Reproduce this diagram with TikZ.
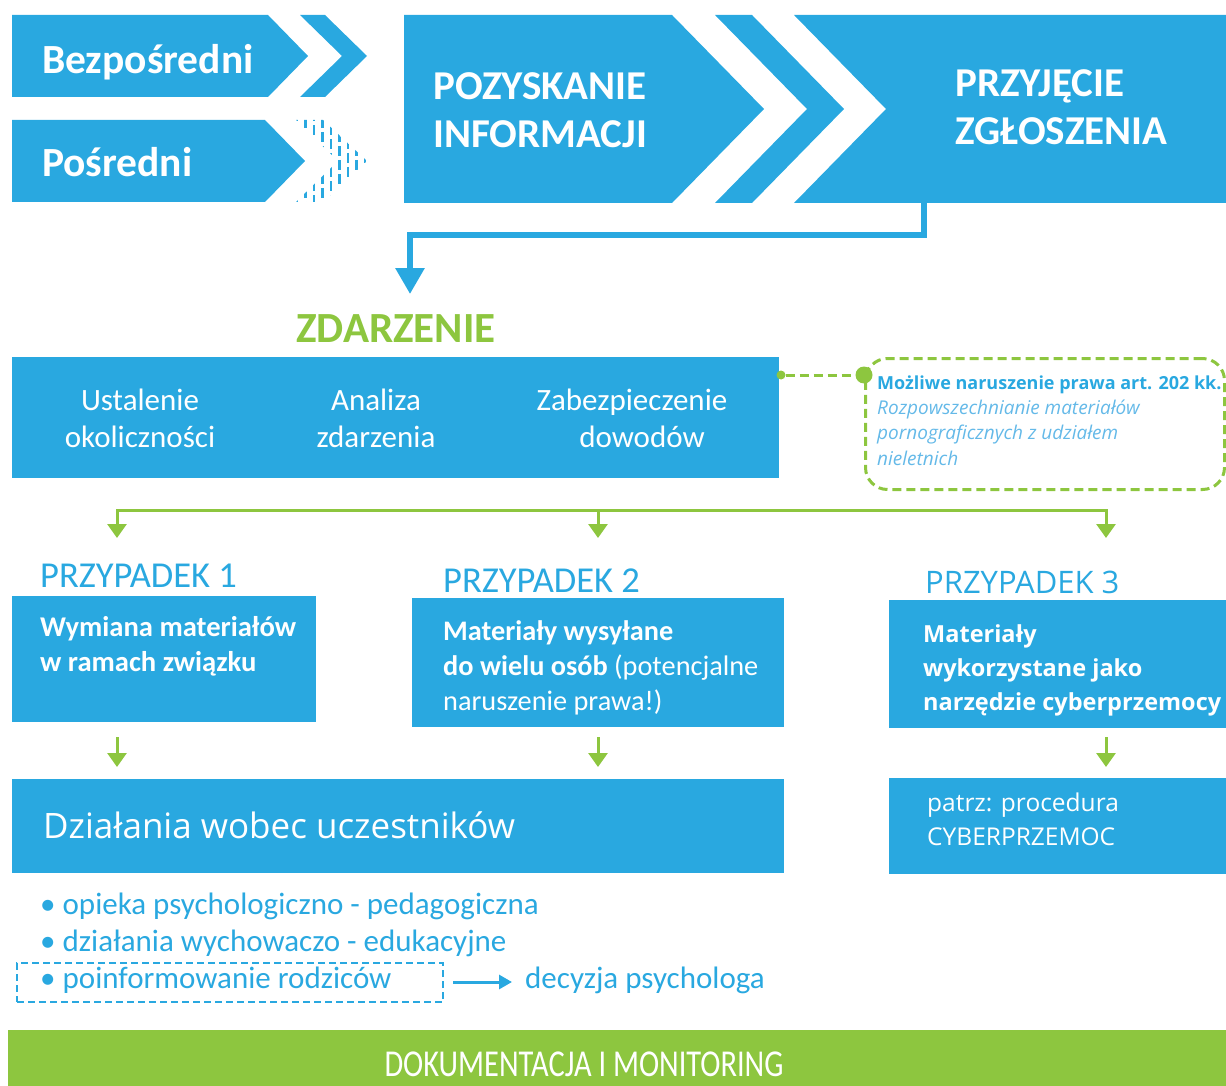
\documentclass[tikz,border=0pt]{standalone}
\usepackage{fontspec}
\setmainfont{Carlito}
\newfontfamily\osf{Open Sans}
\newfontfamily\calc[FakeStretch=0.8]{Carlito}
\usetikzlibrary{arrows.meta}
\definecolor{cblue}{RGB}{41,168,224}
\definecolor{cgreen}{RGB}{141,198,63}
\definecolor{lblue}{RGB}{100,185,232}
\newcommand{\fsz}[2]{\fontsize{#1}{#2}\selectfont}
\begin{document}
\begin{tikzpicture}[x=1pt,y=-1pt,
  box/.style={fill=cblue,draw=none,inner sep=0pt,anchor=north west},
  wtxt/.style={text=white,inner sep=0pt,anchor=base west,align=left},
  ctxt/.style={text=white,inner sep=0pt,anchor=base,align=center,font=\fsz{31}{37}},
  ttl/.style={text=cblue,inner sep=0pt,anchor=base west,font=\fsz{36.5}{42}},
  gline/.style={draw=cgreen,line width=3pt},
  garr/.style={gline,-{Triangle[width=19pt,length=14pt]}},
  gdash/.style={draw=cgreen,line width=3pt,dash pattern=on 9pt off 5pt},
]
\useasboundingbox (0,0) rectangle (1226,1086);

% --- top row: sources (multi-line nodes are anchored at the baseline of their last line)
\fill[cblue] (12,15) -- (268,15) -- (308,56) -- (268,97) -- (12,97) -- cycle;
\node[wtxt,font=\bfseries\fsz{41.5}{48}] (bez) at (42,74) {Bezpośredni};
\fill[cblue] (300,15) -- (325,15) -- (367,56) -- (325,97) -- (300,97) -- (342,56) -- cycle;
\fill[cblue] (12,120) -- (265,120) -- (305,161) -- (265,202) -- (12,202) -- cycle;
\node[wtxt,font=\bfseries\fsz{41.5}{48}] (pos) at (42,177) {Pośredni};
\begin{scope}
  \clip (296,120) -- (323,120) -- (367,161) -- (323,202) -- (296,202) -- (338,161) -- cycle;
  \foreach \x [count=\i] in {297,305.5,...,366} {
    \pgfmathsetmacro\ph{mod(\i*7,14)}
    \draw[cblue,line width=2.5pt,dash pattern=on 10pt off 4pt,dash phase=\ph pt] (\x,118) -- (\x,204);
  }
\end{scope}

% --- big chevrons
\fill[cblue] (404,15) -- (672,15) -- (764,109) -- (672,203) -- (404,203) -- cycle;
\node[wtxt,font=\bfseries\fsz{41}{48}] (poz) at (433,148) {POZYSKANIE\\INFORMACJI};
\fill[cblue] (715,15) -- (752,15) -- (844,109) -- (752,203) -- (715,203) -- (807,109) -- cycle;
\fill[cblue] (794,15) -- (1230,15) -- (1230,203) -- (794,203) -- (886,109) -- cycle;
\node[wtxt,font=\bfseries\fsz{41}{48}] (prz) at (955,145) {PRZYJĘCIE\\ZGŁOSZENIA};

\coordinate (c0) at (924,203);
\coordinate (c1) at (410,294);
\draw[cblue,line width=6pt,line join=miter,-{Triangle[width=28pt,length=26pt]}] (c0) |- (410,235) -- (c1);

% --- ZDARZENIE
\node[font=\bfseries\fsz{43}{50},text=cgreen,inner sep=0pt,anchor=base] (zt) at (396,342) {ZDARZENIE};
\node[box,minimum width=767pt,minimum height=121pt] (zb) at (12,357) {};
\node[ctxt] (u) at (140,447) {Ustalenie\\okoliczności};
\node[ctxt] (an) at (376,447) {Analiza\\zdarzenia};
\node[ctxt] (zab) at (632,447) {Zabezpieczenie\\\hspace*{20pt}dowodów};

% --- note
\node[draw=cgreen,line width=3pt,dash pattern=on 9pt off 5pt,rounded corners=22pt,
      minimum width=359pt,minimum height=131pt,inner sep=0pt,anchor=north west] (nb) at (864,357) {};
\node[circle,fill=cgreen,minimum size=9pt,inner sep=0pt] (d1) at (781,375) {};
\node[circle,fill=cgreen,minimum size=17pt,inner sep=0pt] (d2) at (864,375) {};
\draw[gdash] (d1) -- (d2);
\node[inner sep=0pt,anchor=base west,font=\osf\bfseries\fsz{18}{25},text=cblue] (nt) at (877,389) {Możliwe naruszenie prawa art. 202 kk.};
\node[inner sep=0pt,anchor=base west,align=left,font=\osf\itshape\fsz{19}{25.5},text=lblue] (ni) at (877,465) {Rozpowszechnianie materiałów\\pornograficznych z udziałem\\nieletnich};

% --- green split
\coordinate (g2) at (598,510);
\coordinate (g3) at (1106,510);
\coordinate (a1) at (117,538);
\coordinate (a2) at (598,538);
\coordinate (a3) at (1106,538);
\draw[gline,line join=miter,{Triangle[width=19pt,length=14pt]}-{Triangle[width=19pt,length=14pt]}] (a1) |- (g3) -- (a3);
\draw[garr] (g2) -- (a2);

% --- cases
\node[ttl] (p1) at (40,587) {PRZYPADEK 1};
\node[ttl] (p2) at (443,592) {PRZYPADEK 2};
\node[ttl,font=\osf\fsz{31}{36}] (p3) at (925,593) {PRZYPADEK 3};

\node[box,minimum width=304pt,minimum height=126pt] (b1) at (12,596) {};
\node[wtxt,font=\bfseries\fsz{28.6}{35}] (t1) at (40,671) {Wymiana materiałów\\w ramach związku};
\node[box,minimum width=372pt,minimum height=129pt] (b2) at (412,598) {};
\node[wtxt,font=\fsz{28.3}{35}] (t2) at (443,710) {\textbf{Materiały wysyłane}\\\textbf{do wielu osób} (potencjalne\\naruszenie prawa!)};
\node[box,minimum width=345pt,minimum height=128pt] (b3) at (889,600) {};
\node[wtxt,font=\osf\bfseries\fsz{23.5}{34}] (t3) at (923,710) {Materiały\\wykorzystane jako\\narzędzie cyberprzemocy};

\coordinate (e1) at (117,737);
\coordinate (e2) at (598,737);
\coordinate (e3) at (1106,737);
\coordinate (f1) at (117,767);
\coordinate (f2) at (598,767);
\coordinate (f3) at (1106,767);
\draw[garr] (e1) -- (f1);
\draw[garr] (e2) -- (f2);
\draw[garr] (e3) -- (f3);

\node[box,minimum width=772pt,minimum height=94pt] (b5) at (12,779) {};
\node[wtxt,font=\osf\fsz{35}{40}] (t5) at (43,838) {Działania wobec uczestników};
\node[box,minimum width=345pt,minimum height=96pt] (b4) at (889,778) {};
\node[wtxt,font=\osf\fsz{24.5}{34.5}] (t4) at (927,845.5) {patrz: procedura\\CYBERPRZEMOC};

% --- bullets
\node[inner sep=0pt,anchor=base west,align=left,text=cblue,font=\fsz{31}{37}] (bl) at (40,988)
  {• opieka psychologiczno - pedagogiczna\\• działania wychowaczo - edukacyjne\\• poinformowanie rodziców};
\node[draw=cblue,line width=2pt,dash pattern=on 7pt off 4pt,minimum width=426pt,minimum height=39pt,inner sep=0pt,anchor=north west] (db) at (16,962) {};
\node[inner sep=0pt,anchor=base west,text=cblue,font=\fsz{31}{37}] (dec) at (525,988) {decyzja psychologa};
\coordinate (q0) at (453,982);
\coordinate (q1) at (512,982);
\draw[cblue,line width=3pt,-{Triangle[width=14pt,length=13pt]}] (q0) -- (q1);

% --- bottom bar
\node[fill=cgreen,inner sep=0pt,anchor=north west,minimum width=1222pt,minimum height=60pt] (gb) at (8,1030) {};
\node[inner sep=0pt,anchor=base,text=white,font=\calc\fsz{38}{44}] (dk) at (584,1076) {DOKUMENTACJA I MONITORING};
\end{tikzpicture}
\end{document}
